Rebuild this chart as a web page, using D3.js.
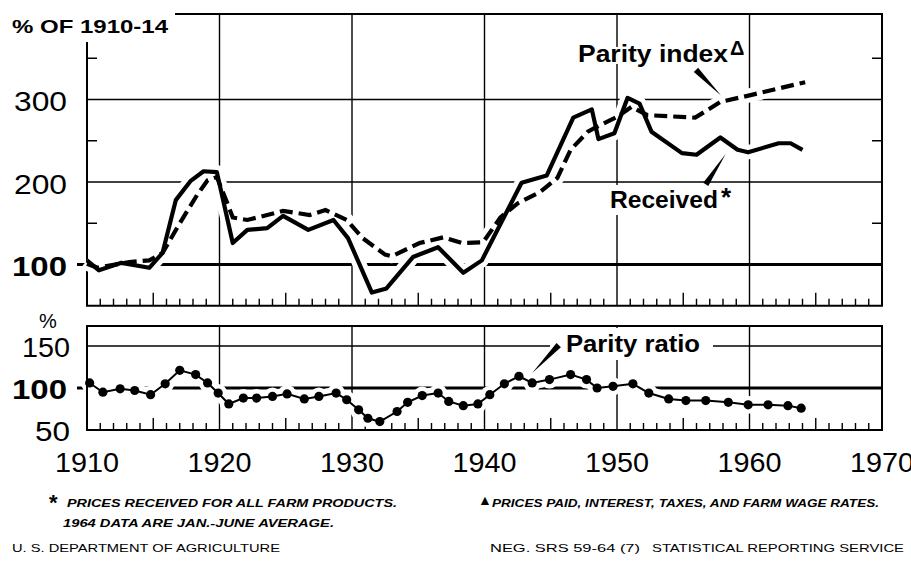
<!DOCTYPE html>
<html>
<head>
<meta charset="utf-8">
<script src="https://cdn.jsdelivr.net/npm/d3@7"></script>
<style>
body { margin: 0; background: #fff; }
text { font-family: "Liberation Sans", Arial, sans-serif; fill: #000; }
</style>
</head>
<body>
<script>
// values (1910-14 = 100)
var receivedYears = [1910, 1910.9, 1912.6, 1914.7, 1915.7, 1916.7, 1917.8, 1918.8, 1919.8, 1921.0,
                     1922.1, 1923.6, 1924.8, 1926.7, 1928.6, 1929.7, 1931.5, 1932.6, 1934.6, 1936.5,
                     1938.4, 1939.8, 1942.8, 1944.7, 1946.7, 1948.1, 1948.6, 1949.8, 1950.8, 1951.7,
                     1952.6, 1954.9, 1956.0, 1957.8, 1959.1, 1959.9, 1962.2, 1963.1, 1964.0];
var receivedValues = [105, 93, 102, 96, 114, 178, 201, 213, 212, 126,
                      142, 144, 159, 142, 154, 132, 66, 71, 109, 121,
                      90, 105, 199, 208, 278, 288, 252, 259, 302, 295,
                      261, 235, 233, 254, 239, 236, 247, 247, 239];

var parityYears = [1910, 1910.8, 1913.2, 1914.7, 1915.7, 1917.0, 1918.3, 1919.1, 1919.8, 1920.6,
                   1921.0, 1922.1, 1923.6, 1924.8, 1926.8, 1928.0, 1929.6, 1930.8, 1932.5, 1933.0,
                   1935.1, 1936.9, 1938.3, 1939.9, 1941.2, 1942.5, 1944.2, 1945.5, 1946.5, 1947.8,
                   1948.5, 1950.0, 1951.1, 1952.3, 1955.9, 1957.8, 1960.0, 1964.2];
var parityValues = [101, 96, 103, 105, 114, 150, 184, 202, 206, 174,
                    157, 154, 160, 165, 160, 166, 154, 132, 112, 110,
                    126, 133, 126, 127, 157, 174, 188, 205, 239, 261,
                    267, 279, 291, 281, 278, 297, 305, 321];

var ratioYears = [1910.2, 1911.2, 1912.5, 1913.6, 1914.8, 1915.9, 1917.0, 1918.2, 1919.1, 1919.9,
                  1920.7, 1921.8, 1922.8, 1924.0, 1925.1, 1926.4, 1927.5, 1928.8, 1929.6, 1930.5,
                  1931.2, 1932.1, 1933.4, 1934.2, 1935.3, 1936.5, 1937.3, 1938.4, 1939.5, 1940.4,
                  1941.5, 1942.6, 1943.6, 1944.9, 1946.5, 1947.7, 1948.5, 1949.7, 1951.2, 1952.4,
                  1953.9, 1955.2, 1956.7, 1958.4, 1959.9, 1961.4, 1962.9, 1963.9];
var ratioValues = [106, 95, 99, 97, 92, 105, 121, 116, 106, 94,
                   81, 88, 88, 90, 93, 87, 90, 94, 86, 74,
                   64, 60, 72, 83, 91, 94, 84, 79, 81, 92,
                   105, 114, 106, 110, 116, 110, 100, 102, 105, 94,
                   87, 85, 85, 83, 80, 80, 79, 76];

var decades = [1910, 1920, 1930, 1940, 1950, 1960, 1970];
var topTickLabels = [100, 200, 300];
var topMinorTicks = [150, 250, 350];
var lowTickLabels = [50, 100, 150];

var svg = d3.select('body').append('svg')
    .attr('width', 911).attr('height', 569);

var x = d3.scaleLinear().domain([1910, 1970]).range([87, 882]);
var yTop = d3.scaleLinear().domain([100, 300]).range([264.5, 99.5]);
var yLow = d3.scaleLinear().domain([50, 150]).range([430, 346]);

var topY0 = yTop(50), topY1 = 14;
var lowY0 = yLow(50), lowY1 = 326;
var years = d3.range(1911, 1970).filter(function(d) { return d % 10 !== 0; });

function wedge(p, q, w) {
    // tapered leader: wide at p, pointed at q
    var dx = q[0] - p[0], dy = q[1] - p[1];
    var len = Math.sqrt(dx * dx + dy * dy);
    var nx = -dy / len * w / 2, ny = dx / len * w / 2;
    return 'M' + (p[0] + nx) + ',' + (p[1] + ny) + 'L' + (p[0] - nx) + ',' + (p[1] - ny) +
           'L' + q[0] + ',' + q[1] + 'Z';
}

// ---------- upper panel ----------
var upper = svg.append('g');

upper.selectAll('.hgrid').data([200, 300]).enter().append('line')
    .attr('x1', x(1910)).attr('x2', x(1970))
    .attr('y1', yTop).attr('y2', yTop)
    .attr('stroke', '#000').attr('stroke-width', 1.4);
upper.append('line')
    .attr('x1', x(1910) - 10).attr('x2', x(1970))
    .attr('y1', yTop(100)).attr('y2', yTop(100))
    .attr('stroke', '#000').attr('stroke-width', 3);
upper.selectAll('.vgrid').data(decades.slice(1, 6)).enter().append('line')
    .attr('x1', x).attr('x2', x)
    .attr('y1', topY1).attr('y2', topY0)
    .attr('stroke', '#000').attr('stroke-width', 1.4);

// frame
upper.append('path')
    .attr('d', 'M' + x(1910) + ',42V' + topY0 + 'H' + x(1970) + 'V' + topY1 + 'H175')
    .attr('fill', 'none').attr('stroke', '#000').attr('stroke-width', 2);

upper.selectAll('.lt').data(topMinorTicks).enter().append('line')
    .attr('x1', x(1910)).attr('x2', x(1910) + 10)
    .attr('y1', yTop).attr('y2', yTop)
    .attr('stroke', '#000').attr('stroke-width', 1.5);
upper.selectAll('.rt').data(topMinorTicks).enter().append('line')
    .attr('x1', x(1970) - 10).attr('x2', x(1970))
    .attr('y1', yTop).attr('y2', yTop)
    .attr('stroke', '#000').attr('stroke-width', 1.5);
upper.selectAll('.bt').data(years).enter().append('line')
    .attr('x1', x).attr('x2', x)
    .attr('y1', topY0).attr('y2', function(d) { return topY0 - (d % 5 === 0 ? 13 : 7); })
    .attr('stroke', '#000').attr('stroke-width', 1.4);

var received = receivedYears.map(function(d, i) { return [d, receivedValues[i]]; });
var parity = parityYears.map(function(d, i) { return [d, parityValues[i]]; });
var lineTop = d3.line().x(function(d) { return x(d[0]); }).y(function(d) { return yTop(d[1]); });

[received, parity].forEach(function(s) {
    upper.append('path').attr('d', lineTop(s))
        .attr('fill', 'none').attr('stroke', '#fff').attr('stroke-width', 14)
        .attr('stroke-linejoin', 'round');
});
upper.append('path').attr('d', lineTop(received))
    .attr('fill', 'none').attr('stroke', '#000').attr('stroke-width', 4.2)
    .attr('stroke-linejoin', 'round');
upper.append('path').attr('d', lineTop(parity))
    .attr('fill', 'none').attr('stroke', '#000').attr('stroke-width', 4.2)
    .attr('stroke-dasharray', '13,6');

// y labels
upper.selectAll('.yl').data(topTickLabels).enter().append('text')
    .attr('x', 67).attr('y', function(d) { return yTop(d) + 11.5; })
    .attr('text-anchor', 'end')
    .attr('textLength', function(d) { return d === 100 ? 55 : 53; })
    .attr('lengthAdjust', 'spacingAndGlyphs')
    .style('font-size', '27px')
    .style('font-weight', function(d) { return d === 100 ? 'bold' : 'normal'; })
    .text(function(d) { return d; });

svg.append('text').attr('x', 12).attr('y', 33)
    .attr('textLength', 156).attr('lengthAdjust', 'spacingAndGlyphs')
    .style('font-size', '18px').style('font-weight', 'bold')
    .text('% OF 1910-14');

// series labels
upper.append('rect').attr('x', 604).attr('y', 185).attr('width', 140).attr('height', 30).attr('fill', '#fff');
upper.append('text').attr('x', 610).attr('y', 208)
    .attr('textLength', 108).attr('lengthAdjust', 'spacingAndGlyphs')
    .style('font-size', '23px').style('font-weight', 'bold')
    .text('Received');
upper.append('text').attr('x', 721).attr('y', 206)
    .style('font-size', '26px').style('font-weight', 'bold').text('*');
upper.append('path')
    .attr('d', wedge([x(1956.7), yTop(197)], [x(1958.2), yTop(234)], 6))
    .attr('fill', '#000');

upper.append('text').attr('x', 578).attr('y', 62)
    .attr('textLength', 150).attr('lengthAdjust', 'spacingAndGlyphs')
    .style('font-size', '23px').style('font-weight', 'bold')
    .style('stroke', '#fff').style('stroke-width', 4).style('paint-order', 'stroke')
    .text('Parity index');
upper.append('text').attr('x', 730).attr('y', 55)
    .style('font-size', '20px').style('font-weight', 'bold').text('Δ');
upper.append('path')
    .attr('d', wedge([x(1955.96), yTop(336)], [x(1957.85), yTop(305)], 6))
    .attr('fill', '#000');

// ---------- lower panel ----------
var low = svg.append('g');

low.append('line')
    .attr('x1', x(1910)).attr('x2', x(1970))
    .attr('y1', yLow(150)).attr('y2', yLow(150))
    .attr('stroke', '#000').attr('stroke-width', 1.4);
low.append('line')
    .attr('x1', x(1910) - 10).attr('x2', x(1970))
    .attr('y1', yLow(100)).attr('y2', yLow(100))
    .attr('stroke', '#000').attr('stroke-width', 3);
low.selectAll('.vgrid').data(decades.slice(1, 6)).enter().append('line')
    .attr('x1', x).attr('x2', x)
    .attr('y1', lowY1).attr('y2', lowY0)
    .attr('stroke', '#000').attr('stroke-width', 1.4);
low.selectAll('.bt').data(years).enter().append('line')
    .attr('x1', x).attr('x2', x)
    .attr('y1', lowY0).attr('y2', function(d) { return lowY0 - (d % 5 === 0 ? 12 : 7); })
    .attr('stroke', '#000').attr('stroke-width', 1.4);

// label box cuts the grid
low.append('rect').attr('x', 550).attr('y', 328).attr('width', 163).attr('height', 32).attr('fill', '#fff');

var ratio = ratioYears.map(function(d, i) { return [d, ratioValues[i]]; });
var lineLow = d3.line().x(function(d) { return x(d[0]); }).y(function(d) { return yLow(d[1]); });

low.append('path').attr('d', lineLow(ratio))
    .attr('fill', 'none').attr('stroke', '#fff').attr('stroke-width', 13);
low.selectAll('.halo').data(ratio).enter().append('circle')
    .attr('cx', function(d) { return x(d[0]); }).attr('cy', function(d) { return yLow(d[1]); })
    .attr('r', 9).attr('fill', '#fff');

low.append('rect')
    .attr('x', x(1910)).attr('y', lowY1)
    .attr('width', x(1970) - x(1910)).attr('height', lowY0 - lowY1)
    .attr('fill', 'none').attr('stroke', '#000').attr('stroke-width', 2);

low.append('path').attr('d', lineLow(ratio))
    .attr('fill', 'none').attr('stroke', '#000').attr('stroke-width', 2);
low.selectAll('.dot').data(ratio).enter().append('circle')
    .attr('cx', function(d) { return x(d[0]); }).attr('cy', function(d) { return yLow(d[1]); })
    .attr('r', 4.6).attr('fill', '#000');

low.append('text').attr('x', 566).attr('y', 352)
    .attr('textLength', 134).attr('lengthAdjust', 'spacingAndGlyphs')
    .style('font-size', '23px').style('font-weight', 'bold')
    .text('Parity ratio');
low.append('path')
    .attr('d', wedge([x(1945.6), yLow(151)], [x(1943.6), yLow(118)], 6))
    .attr('fill', '#000');

low.selectAll('.yl').data(lowTickLabels).enter().append('text')
    .attr('x', function(d) { return d === 100 ? 67 : 70; })
    .attr('y', function(d) { return yLow(d) + 10.5; })
    .attr('text-anchor', 'end')
    .attr('textLength', function(d) { return d === 50 ? 35 : (d === 100 ? 55 : 48); })
    .attr('lengthAdjust', 'spacingAndGlyphs')
    .style('font-size', '27px')
    .style('font-weight', function(d) { return d === 100 ? 'bold' : 'normal'; })
    .text(function(d) { return d; });
low.append('text').attr('x', 48).attr('y', 328).attr('text-anchor', 'middle')
    .style('font-size', '20px').text('%');

// x labels
svg.selectAll('.xl').data(decades).enter().append('text')
    .attr('x', x).attr('y', 472)
    .attr('text-anchor', 'middle')
    .attr('textLength', 64).attr('lengthAdjust', 'spacingAndGlyphs')
    .style('font-size', '28px')
    .text(function(d) { return d; });

// footnotes
var foot = svg.append('g').style('font-size', '11px').style('font-style', 'italic').style('font-weight', 'bold');
svg.append('text').attr('x', 49).attr('y', 510).style('font-size', '22px').style('font-weight', 'bold').text('*');
foot.append('text').attr('x', 67).attr('y', 507)
    .attr('textLength', 330).attr('lengthAdjust', 'spacingAndGlyphs')
    .text('PRICES RECEIVED FOR ALL FARM PRODUCTS.');
foot.append('text').attr('x', 63).attr('y', 527)
    .attr('textLength', 271).attr('lengthAdjust', 'spacingAndGlyphs')
    .text('1964 DATA ARE JAN.-JUNE AVERAGE.');
svg.append('text').attr('x', 478).attr('y', 505)
    .style('font-size', '14px').style('font-weight', 'bold').text('▲');
foot.append('text').attr('x', 492).attr('y', 507)
    .attr('textLength', 387).attr('lengthAdjust', 'spacingAndGlyphs')
    .text('PRICES PAID, INTEREST, TAXES, AND FARM WAGE RATES.');

var credit = svg.append('g').style('font-size', '10.5px');
credit.append('text').attr('x', 12).attr('y', 552)
    .attr('textLength', 268).attr('lengthAdjust', 'spacingAndGlyphs')
    .text('U. S. DEPARTMENT OF AGRICULTURE');
credit.append('text').attr('x', 490).attr('y', 552)
    .attr('textLength', 150).attr('lengthAdjust', 'spacingAndGlyphs')
    .text('NEG. SRS 59-64 (7)');
credit.append('text').attr('x', 652).attr('y', 552)
    .attr('textLength', 252).attr('lengthAdjust', 'spacingAndGlyphs')
    .text('STATISTICAL REPORTING SERVICE');
</script>
</body>
</html>
